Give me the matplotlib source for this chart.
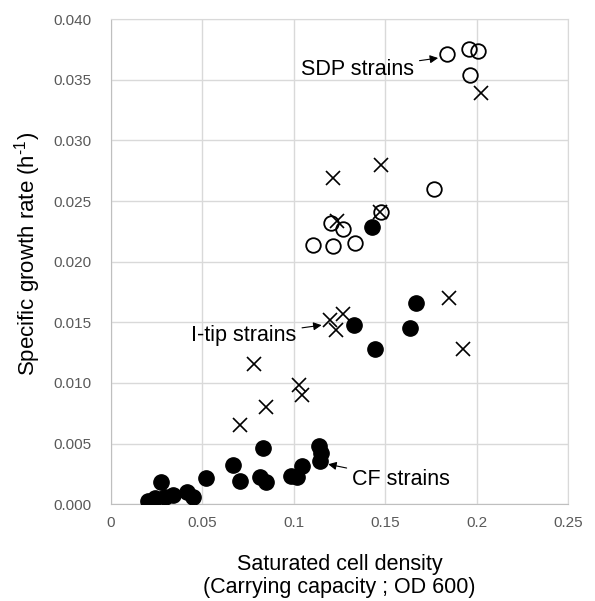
import matplotlib
matplotlib.use("Agg")
import matplotlib.pyplot as plt

plt.rcParams['font.family'] = ['Liberation Sans', 'DejaVu Sans']
plt.rcParams['mathtext.fontset'] = 'custom'
plt.rcParams['mathtext.rm'] = 'Liberation Sans'

# CF strains (filled circles)
cf_x = [0.0206, 0.0242, 0.0275, 0.0297, 0.0342, 0.0415, 0.0448, 0.0521,
        0.0667, 0.0707, 0.0834, 0.0816, 0.0847, 0.0984, 0.1016, 0.1047,
        0.1138, 0.1148, 0.1144, 0.1330, 0.1444, 0.1636, 0.1667, 0.1426]
cf_y = [0.00027, 0.0005, 0.0018, 0.00063, 0.00077, 0.00104, 0.00063, 0.00214,
        0.00324, 0.00192, 0.00466, 0.00227, 0.00181, 0.00233, 0.00222, 0.00318,
        0.0048, 0.00425, 0.00359, 0.01477, 0.01279, 0.0145, 0.01656, 0.02287]

# SDP strains (open circles)
sdp_x = [0.1836, 0.1960, 0.2009, 0.1963, 0.1768, 0.1477, 0.1204, 0.1268,
         0.1107, 0.1216, 0.1335]
sdp_y = [0.0371, 0.03756, 0.03742, 0.03536, 0.02603, 0.02408, 0.02323, 0.0227,
         0.02142, 0.02128, 0.02155]

# I-tip strains (crosses)
itip_x = [0.2027, 0.1477, 0.1216, 0.1240, 0.1470, 0.1849, 0.1927, 0.1198,
          0.1268, 0.1230, 0.0785, 0.1029, 0.1044, 0.0847, 0.0707]
itip_y = [0.0339, 0.0280, 0.02694, 0.02336, 0.0241, 0.01697, 0.01279, 0.01518,
          0.01573, 0.01436, 0.01153, 0.00983, 0.0090, 0.00804, 0.00653]

xticks = [0, 0.05, 0.1, 0.15, 0.2, 0.25]
xticklabels = ['0', '0.05', '0.1', '0.15', '0.2', '0.25']
yticks = [0.000, 0.005, 0.010, 0.015, 0.020, 0.025, 0.030, 0.035, 0.040]

fig = plt.figure(figsize=(5.95, 6.01), dpi=100)
ax = fig.add_axes([0.186, 0.161, 0.7686, 0.807])

ax.plot(itip_x, itip_y, 'x', color='black', ms=9.5, mew=1.2, zorder=3)
ax.plot(sdp_x, sdp_y, 'o', mfc='none', mec='black', ms=10.5, mew=1.3, zorder=3)
ax.plot(cf_x, cf_y, 'o', color='black', ms=11, zorder=4)

ax.set_xlim(0, 0.25)
ax.set_ylim(0, 0.040)
ax.set_xticks(xticks)
ax.set_xticklabels(xticklabels)
ax.set_yticks(yticks)
ax.set_yticklabels([f'{v:.3f}' for v in yticks])
ax.tick_params(length=0, labelsize=11, labelcolor='#595959')
ax.tick_params(axis='x', pad=8.5)
ax.tick_params(axis='y', pad=13.5)
ax.grid(True, color='#d9d9d9', lw=1)
ax.set_axisbelow(True)
for s in ['top', 'right']:
    ax.spines[s].set_color('#d9d9d9')
for s in ['left', 'bottom']:
    ax.spines[s].set_color('#bfbfbf')

ax.set_xlabel('Saturated cell density\n(Carrying capacity ; OD 600)',
              fontsize=15.5, labelpad=17, linespacing=1.15)
ax.set_ylabel(r'Specific growth rate (h$^{\text{-}1}$)', fontsize=16, labelpad=8)
ax.yaxis.label.set_y(0.516)

arrow = dict(arrowstyle='-|>', color='black', lw=0.8, mutation_scale=12, shrinkA=2, shrinkB=0)
ax.annotate('SDP strains', xy=(0.179, 0.0368), xytext=(0.1658, 0.03586),
            ha='right', va='center', fontsize=15.5, arrowprops=arrow)
ax.annotate('I-tip strains', xy=(0.1153, 0.01477), xytext=(0.1016, 0.01389),
            ha='right', va='center', fontsize=15.5, arrowprops=arrow)
ax.annotate('CF strains', xy=(0.1189, 0.0033), xytext=(0.132, 0.00206),
            ha='left', va='center', fontsize=15.5, arrowprops=arrow)

fig.savefig('out.png', dpi=100)
